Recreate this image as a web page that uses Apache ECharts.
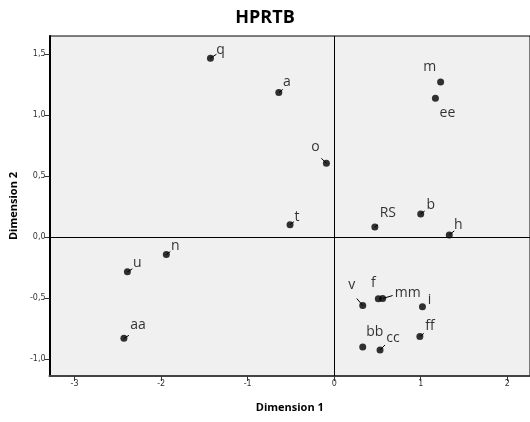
<!DOCTYPE html>
<html>
<head>
<meta charset="utf-8">
<script src="https://cdn.jsdelivr.net/npm/echarts@6/dist/echarts.min.js"></script>
<style>html,body{margin:0;padding:0;background:#fff}#c{width:530px;height:422px}</style>
</head>
<body>
<div id="c"></div>
<script>
// Data
var names = ['q','a','m','ee','o','b','RS','t','h','v','f','mm','i','ff','bb','cc','n','u','aa'];
var dim1 = [-1.43,-0.64,1.23,1.17,-0.09,1.00,0.47,-0.51,1.33,0.33,0.51,0.56,1.02,0.99,0.33,0.53,-1.94,-2.39,-2.43];
var dim2 = [1.465,1.185,1.27,1.138,0.605,0.19,0.084,0.103,0.019,-0.559,-0.504,-0.502,-0.569,-0.812,-0.899,-0.923,-0.142,-0.283,-0.828];
var xTicks = [-3,-2,-1,0,1,2];
var yTicks = [-1.0,-0.5,0.0,0.5,1.0,1.5];
var titleText = 'HPRTB';
var xName = 'Dimension 1';
var yName = 'Dimension 2';

// label placement (style): label offset and leader-line vector, in pixels
var labelPlace = {
  q:[10,-8,[6,-4]], a:[8,-10,[4,-3]], m:[-11,-15,null], ee:[12,15,null], o:[-11,-16,[-5,-5]],
  b:[10,-9,[4,-3]], RS:[13,-14,[3,-2]], t:[7,-8,[4,-3]], h:[9,-10,[5,-4]], v:[-11,-20,[-6,-7]],
  f:[-5,-16,null], mm:[25,-6,[10,-3]], i:[7,-7,null], ff:[10,-10,[4,-3]], bb:[12,-15,null],
  cc:[13,-12,[5,-5]], n:[9,-9,[4,-3]], u:[10,-9,[5,-3]], aa:[14,-13,[5,-3]]
};

var points = names.map(function(n, i){
  var p = labelPlace[n];
  return {name:n, value:[dim1[i], dim2[i]], label:{offset:[p[0],p[1]]}};
});
var leaderData = names.map(function(n, i){ return [dim1[i], dim2[i], i]; });

function fmt(v){ return v.toFixed(1).replace('.', ','); }

var chart = echarts.init(document.getElementById('c'), null, {renderer:'canvas'});
chart.setOption({
  animation:false,
  title:{text:titleText,left:'center',top:4,textStyle:{fontFamily:'Open Sans',fontWeight:'bold',fontSize:18,color:'#000'}},
  grid:{left:48,right:0,top:36,bottom:46,show:true,backgroundColor:'#f0f0f0',borderColor:'#000',borderWidth:1},
  xAxis:{type:'value',min:-3.29,max:2.263,
    name:xName,nameLocation:'middle',nameGap:26,
    nameTextStyle:{fontFamily:'Open Sans',fontWeight:'bold',fontSize:11,color:'#000'},
    axisLine:{show:true,onZero:false,lineStyle:{color:'#444',width:2}},
    axisTick:{show:true,customValues:xTicks,length:5,lineStyle:{color:'#333'}},
    axisLabel:{customValues:xTicks,fontFamily:'DejaVu Sans',fontSize:8,color:'#333',margin:4,formatter:function(v){return String(v);}},
    splitLine:{show:false}},
  yAxis:{type:'value',min:-1.136,max:1.647,
    name:yName,nameLocation:'middle',nameGap:30,nameRotate:90,
    nameTextStyle:{fontFamily:'Open Sans',fontWeight:'bold',fontSize:11,color:'#000'},
    axisLine:{show:true,onZero:false,lineStyle:{color:'#000',width:2}},
    axisTick:{show:true,customValues:yTicks,length:5,lineStyle:{color:'#333'}},
    axisLabel:{customValues:yTicks,fontFamily:'DejaVu Sans',fontSize:8,color:'#333',margin:4,formatter:fmt},
    splitLine:{show:false}},
  series:[{
    type:'custom',
    silent:true,
    z:1,
    data:leaderData,
    renderItem:function(params, api){
      var idx = api.value(2);
      var vec = labelPlace[names[idx]][2];
      if (!vec) return null;
      var p = api.coord([api.value(0), api.value(1)]);
      return {type:'line',shape:{x1:p[0],y1:p[1],x2:p[0]+vec[0],y2:p[1]+vec[1]},style:{stroke:'#000',lineWidth:1}};
    }
  },{
    type:'scatter',
    z:2,
    symbol:'circle',symbolSize:7,
    itemStyle:{color:'#000'},
    data:points,
    label:{show:true,position:'inside',formatter:'{b}',fontFamily:'Open Sans',fontSize:14,color:'#000'},
    markLine:{silent:true,symbol:'none',label:{show:false},lineStyle:{color:'#000',width:1,type:'solid'},
      data:[{xAxis:0},{yAxis:0}]}
  }]
});
</script>
</body>
</html>
